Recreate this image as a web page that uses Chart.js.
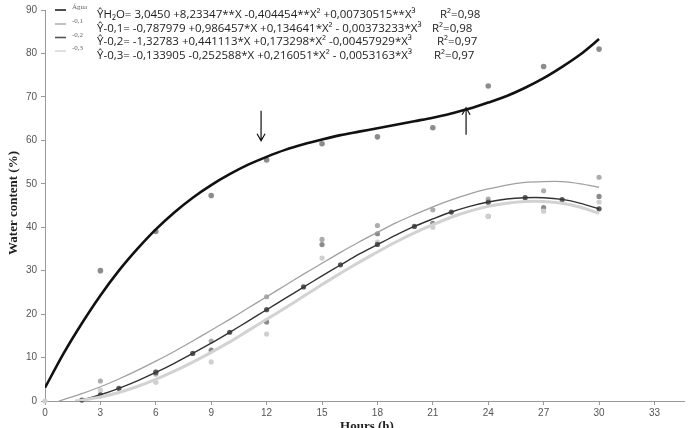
<!DOCTYPE html>
<html lang="en">
<head>
    <meta charset="utf-8">
    <title>Water content vs hours</title>
    <script src="https://cdn.jsdelivr.net/npm/chart.js"></script>
    <style>
        html, body { margin: 0; padding: 0; background: #fff; }
        #wrap { width: 688px; height: 428px; position: relative; }
    </style>
</head>
<body>
<div id="wrap"><canvas id="myChart" width="688" height="428"></canvas></div>
<script>
    // tick labels
    var xTicks = [0, 3, 6, 9, 12, 15, 18, 21, 24, 27, 30, 33];
    var yTicks = [0, 10, 20, 30, 40, 50, 60, 70, 80, 90];

    // observed points (hours / water content)
    var obsHours = [3, 6, 9, 12, 15, 18, 21, 24, 27, 30];
    var aguaObs = [30, 39, 47.3, 55.5, 59.2, 60.8, 62.9, 72.5, 77, 81];
    var m01Obs = [4.6, 6.2, 13.8, 24, 37.2, 40.4, 44, 46.5, 48.4, 51.5];
    var m02Obs = [1.2, 6.7, 11.7, 18.2, 36, 38.5, 40.9, 42.5, 44.5, 47.1];
    var m03Obs = [2.5, 4.3, 9.0, 15.4, 32.9, 36.6, 40, 42.5, 43.7, 45.8];

    // fitted curves
    var fitHours = [0, 1, 2, 3, 4, 5, 6, 7, 8, 9, 10, 11, 12, 13, 14, 15, 16, 17, 18, 19, 20, 21, 22, 23, 24, 25, 26, 27, 28, 29, 30];
    var aguaFit = [3.05, 10.9, 17.9, 24.3, 30.0, 35.0, 39.5, 43.4, 46.8, 49.7, 52.2, 54.4, 56.2, 57.8, 59.1, 60.2, 61.2, 62.0, 62.8, 63.6, 64.4, 65.2, 66.2, 67.3, 68.7, 70.2, 72.1, 74.3, 76.9, 79.8, 83.3];
    var m01Fit = [null, 0.33, 1.69, 3.28, 5.07, 7.04, 9.17, 11.4, 13.8, 16.3, 18.8, 21.4, 24.0, 26.6, 29.2, 31.7, 34.2, 36.6, 38.8, 41.0, 42.9, 44.7, 46.3, 47.7, 48.8, 49.7, 50.3, 50.5, 50.5, 50.0, 49.2];
    var m02Fit = [null, null, 0.21, 1.43, 2.92, 4.64, 6.57, 8.68, 10.95, 13.3, 15.8, 18.4, 21.0, 23.6, 26.2, 28.8, 31.3, 33.8, 36.0, 38.2, 40.2, 41.9, 43.5, 44.8, 45.8, 46.5, 46.8, 46.8, 46.4, 45.5, 44.2];
    var m03Fit = [null, null, 0.18, 0.91, 1.97, 3.34, 4.98, 6.86, 8.95, 11.2, 13.6, 16.2, 18.8, 21.4, 24.1, 26.8, 29.4, 31.9, 34.3, 36.6, 38.7, 40.6, 42.3, 43.7, 44.8, 45.5, 45.9, 45.9, 45.5, 44.6, 43.2];
    var fitStarts = [[0.75, 0], [1.8, 0], [1.62, 0]];

    // markers sitting on the -0,2 curve
    var m02MarkHours = [2, 3, 4, 6, 8, 10, 12, 14, 16, 18, 20, 22, 24, 26, 28, 30];
    var m02Marks = [0.21, 1.43, 2.92, 6.57, 10.95, 15.83, 21.01, 26.25, 31.34, 36.05, 40.18, 43.49, 45.77, 46.81, 46.37, 44.23];

    // arrows: [hour, from, to]
    var arrows = [[11.7, 66.8, 59.9], [22.8, 61.3, 67.5]];

    var legendNames = ["Água", "-0,1", "-0,2", "-0,3"];
    var equations = [
        "ŶH₂O= 3,0450 +8,23347**X -0,404454**X² +0,00730515**X³",
        "Ŷ-0,1= -0,787979 +0,986457*X +0,134641*X² - 0,00373233*X³",
        "Ŷ-0,2= -1,32783 +0,441113*X +0,173298*X² -0,00457929*X³",
        "Ŷ-0,3= -0,133905 -0,252588*X +0,216051*X² - 0,0053163*X³"
    ];
    var r2Labels = ["R²=0,98", "R²=0,98", "R²=0,97", "R²=0,97"];

    function pts(xs, ys, start) {
        var out = [];
        if (start) out.push({x: start[0], y: start[1]});
        for (var i = 0; i < xs.length; i++) {
            if (ys[i] !== null) out.push({x: xs[i], y: ys[i]});
        }
        return out;
    }

    var lineColors = ["#111111", "#a0a0a0", "#333333", "#d2d2d2"];
    var lineWidths = [2.6, 1.3, 1.4, 3];

    var extras = {
        id: 'extras',
        afterDraw: function (chart) {
            var c = chart.ctx;
            var xs = chart.scales.x, ys = chart.scales.y;
            c.save();

            // legend
            var legY = [10, 24, 37.5, 51];
            var legCol = ["#222", "#b0b0b0", "#555", "#d8d8d8"];
            for (var i = 0; i < 4; i++) {
                c.strokeStyle = legCol[i];
                c.lineWidth = 1.6;
                c.beginPath();
                c.moveTo(55, legY[i]);
                c.lineTo(66, legY[i]);
                c.stroke();
                c.fillStyle = "#666";
                c.font = "7px 'Liberation Serif'";
                c.textBaseline = "bottom";
                c.fillText(legendNames[i], 72, legY[i] + 1);
            }

            // equations
            var eqY = [15, 28.5, 42, 55.5];
            var r2X = [440, 432, 437, 434];
            c.fillStyle = "#222";
            c.font = "11.5px 'Open Sans'";
            c.textBaseline = "middle";
            for (var j = 0; j < 4; j++) {
                c.fillText(equations[j], 97, eqY[j], 328);
                c.fillText(r2Labels[j], r2X[j], eqY[j]);
            }

            // arrows
            c.strokeStyle = "#111";
            c.lineWidth = 1.2;
            arrows.forEach(function (a) {
                var px = xs.getPixelForValue(a[0]);
                var y0 = ys.getPixelForValue(a[1]);
                var y1 = ys.getPixelForValue(a[2]);
                var d = y1 > y0 ? -1 : 1;
                c.beginPath();
                c.moveTo(px, y0);
                c.lineTo(px, y1);
                c.moveTo(px - 4, y1 + d * 7);
                c.lineTo(px, y1);
                c.lineTo(px + 4, y1 + d * 7);
                c.stroke();
            });

            // axis titles
            c.fillStyle = "#222";
            c.font = "bold 13px 'Liberation Serif'";
            c.textAlign = "center";
            c.textBaseline = "top";
            c.fillText("Hours (h)", 367, 420);
            c.translate(14, 203);
            c.rotate(-Math.PI / 2);
            c.textBaseline = "middle";
            c.fillText("Water content (%)", 0, 0);
            c.restore();
        }
    };

    var ctx = document.getElementById("myChart").getContext('2d');
    var myChart = new Chart(ctx, {
        type: 'scatter',
        data: {
            datasets: [
                {data: pts(fitHours, aguaFit), type: 'line', borderColor: lineColors[0], borderWidth: lineWidths[0], pointRadius: 0, tension: 0.3, fill: false},
                {data: pts(fitHours, m03Fit, fitStarts[2]), type: 'line', borderColor: lineColors[3], borderWidth: lineWidths[3], pointRadius: 0, tension: 0.3, fill: false},
                {data: pts(fitHours, m01Fit, fitStarts[0]), type: 'line', borderColor: lineColors[1], borderWidth: lineWidths[1], pointRadius: 0, tension: 0.3, fill: false},
                {data: pts(fitHours, m02Fit, fitStarts[1]), type: 'line', borderColor: lineColors[2], borderWidth: lineWidths[2], pointRadius: 0, tension: 0.3, fill: false},
                {data: pts(m02MarkHours, m02Marks), backgroundColor: '#5a5a5a', borderWidth: 0, pointRadius: 2.6, clip: false},
                {data: pts([0].concat(obsHours), [0].concat(m03Obs)), backgroundColor: '#cfcfcf', borderWidth: 0, pointRadius: 2.6, clip: false},
                {data: pts(obsHours, m01Obs), backgroundColor: '#adadad', borderWidth: 0, pointRadius: 2.6, clip: false},
                {data: pts(obsHours, m02Obs), backgroundColor: '#8a8a8a', borderWidth: 0, pointRadius: 2.6, clip: false},
                {data: pts(obsHours, aguaObs), backgroundColor: '#8c8c8c', borderWidth: 0, pointRadius: 2.8, clip: false}
            ]
        },
        options: {
            responsive: false,
            animation: false,
            layout: {padding: {top: 9, right: 4, left: 0, bottom: 0}},
            plugins: {legend: {display: false}, tooltip: {enabled: false}},
            scales: {
                x: {
                    type: 'linear', min: 0, max: 34.6,
                    afterBuildTicks: function (s) { s.ticks = xTicks.map(function (v) { return {value: v}; }); },
                    afterFit: function (s) { s.height = 27; },
                    grid: {drawOnChartArea: false, drawTicks: true, tickLength: 4, color: '#999'},
                    border: {color: '#999', width: 1},
                    ticks: {color: '#555', font: {family: 'Liberation Sans', size: 10}, padding: 2, maxRotation: 0}
                },
                y: {
                    type: 'linear', min: 0, max: 90,
                    afterBuildTicks: function (s) { s.ticks = yTicks.map(function (v) { return {value: v}; }); },
                    afterFit: function (s) { s.width = 45; },
                    grid: {drawOnChartArea: false, drawTicks: true, tickLength: 4, color: '#999'},
                    border: {color: '#999', width: 1},
                    ticks: {color: '#555', font: {family: 'Liberation Sans', size: 10}, padding: 4}
                }
            }
        },
        plugins: [extras]
    });
</script>
</body>
</html>
